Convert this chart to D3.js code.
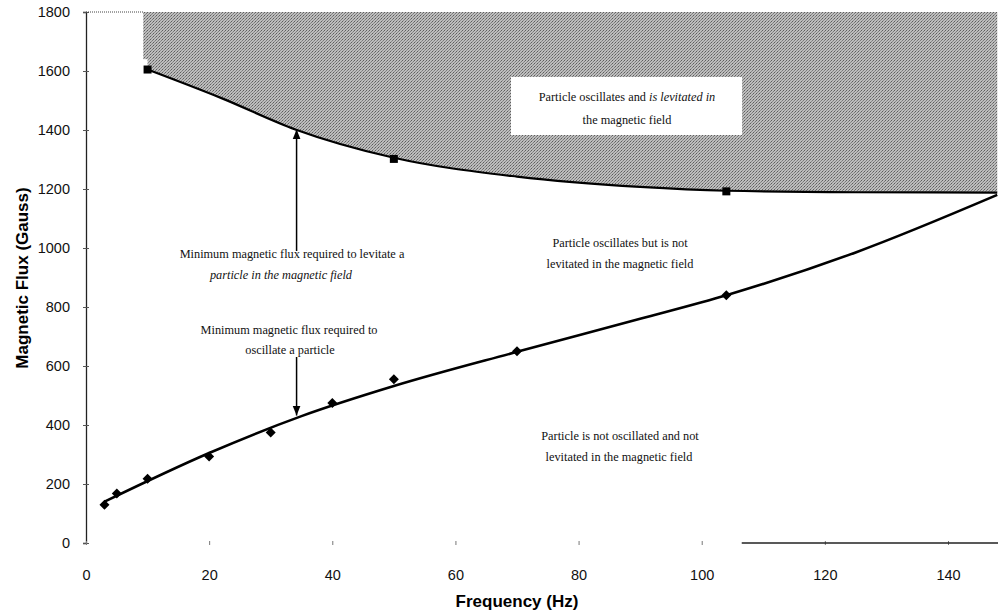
<!DOCTYPE html>
<html><head><meta charset="utf-8">
<script src="https://cdn.jsdelivr.net/npm/d3@7"></script>
<style>body{margin:0;background:#fff}svg{display:block}</style>
</head><body>
<script>
// Data
const oscPoints = [[3,130],[5,168],[10,218],[20,293],[30,375],[40,475],[50,555],[70,650],[104,840]];
const levPoints = [[10,1605],[50,1302],[104,1192]];
const oscFit = [[3,140],[20,305],[35,430],[50,532],[70,648],[90,760],[104,840],[125,985],[148,1180]];
const levFit = [[10,1605],[22,1508],[34,1402],[50,1306],[70,1242],[90,1207],[104,1194],[125,1189],[148,1188]];
const xTicks = [0,20,40,60,80,100,120,140];
const yTicks = [0,200,400,600,800,1000,1200,1400,1600,1800];
const xTitle = "Frequency (Hz)";
const yTitle = "Magnetic Flux (Gauss)";

const W = 998, H = 615;
const x = d3.scaleLinear().domain([0,140]).range([86,948]);
const y = d3.scaleLinear().domain([0,1800]).range([543,12]);

const svg = d3.select("body").append("svg").attr("width",W).attr("height",H);
const defs = svg.append("defs");
const pat = defs.append("pattern").attr("id","stip").attr("width",3).attr("height",3).attr("patternUnits","userSpaceOnUse");
pat.append("rect").attr("width",3).attr("height",3).attr("fill","#bdbdbd");
pat.append("rect").attr("x",0).attr("y",0).attr("width",1).attr("height",1).attr("fill","#5e5e5e");
pat.append("rect").attr("x",2).attr("y",1).attr("width",1).attr("height",1).attr("fill","#7a7a7a");
pat.append("rect").attr("x",1).attr("y",2).attr("width",1).attr("height",1).attr("fill","#8a8a8a");

const curve = d3.curveMonotoneX;
// Shaded region above upper curve
const area = d3.area().x(d=>x(d[0])).y0(y(1800)).y1(d=>y(d[1])).curve(curve);
svg.append("path").datum(levFit).attr("d",area).attr("fill","url(#stip)");
svg.append("rect").attr("x",x(9.3)).attr("y",y(1800)).attr("width",x(10)-x(9.3)+1).attr("height",y(1640)-y(1800)).attr("fill","url(#stip)");

// White box label
svg.append("rect").attr("x",511).attr("y",77).attr("width",231).attr("height",58).attr("fill","#fff");

const sans = "Arial, 'Liberation Sans', sans-serif";
// Axes
const yAxis = d3.axisLeft(y).tickValues(yTicks).tickFormat(d3.format("d")).tickSize(3).tickPadding(13);
const gy = svg.append("g").attr("transform","translate(86,0)").call(yAxis);
gy.select(".domain").attr("stroke","#222").attr("stroke-width",1.3);
gy.selectAll(".tick line").attr("x2",-3).attr("x1",3).attr("stroke","#555");
gy.selectAll("text").attr("font-family",sans).attr("font-size",14.5).attr("fill","#111");

const xAxis = d3.axisBottom(x).tickValues(xTicks).tickSize(3).tickPadding(24);
const gx = svg.append("g").attr("transform","translate(0,543)").call(xAxis);
gx.select(".domain").remove();
gx.selectAll(".tick line").attr("y1",-2).attr("y2",2).attr("stroke","#777");
gx.selectAll("text").attr("font-family",sans).attr("font-size",14.5).attr("fill","#111");
svg.append("line").attr("x1",x(106.5)).attr("x2",W).attr("y1",y(0)).attr("y2",y(0)).attr("stroke","#222").attr("stroke-width",1.3);
svg.append("line").attr("x1",86).attr("x2",x(9.3)).attr("y1",y(1800)).attr("y2",y(1800)).attr("stroke","#444").attr("stroke-dasharray","1,1");

svg.append("text").attr("x",517).attr("y",607).attr("text-anchor","middle")
  .attr("font-family",sans).attr("font-weight","bold").attr("font-size",17).text(xTitle);
svg.append("text").attr("transform","translate(28,278) rotate(-90)").attr("text-anchor","middle")
  .attr("font-family",sans).attr("font-weight","bold").attr("font-size",17).text(yTitle);

// Curves
const line = d3.line().x(d=>x(d[0])).y(d=>y(d[1])).curve(curve);
svg.append("path").datum(levFit).attr("d",line).attr("fill","none").attr("stroke","#000").attr("stroke-width",2.2);
svg.append("path").datum(oscFit).attr("d",line).attr("fill","none").attr("stroke","#000").attr("stroke-width",2.6);

// Markers
svg.selectAll(".sq").data(levPoints).join("rect").attr("class","sq")
  .attr("x",d=>x(d[0])-4).attr("y",d=>y(d[1])-4).attr("width",8).attr("height",8).attr("fill","#000");
svg.selectAll(".dm").data(oscPoints).join("path").attr("class","dm")
  .attr("transform",d=>`translate(${x(d[0])},${y(d[1])})`)
  .attr("d","M0,-5 L5,0 L0,5 L-5,0 Z").attr("fill","#000");

// Arrows
defs.append("marker").attr("id","ah").attr("viewBox","0 0 10 10").attr("refX",10).attr("refY",5)
  .attr("markerWidth",10).attr("markerHeight",10).attr("markerUnits","userSpaceOnUse").attr("orient","auto")
  .append("path").attr("d","M0,1 L10,5 L0,9 Z").attr("fill","#000");
svg.append("line").attr("x1",x(34.2)).attr("x2",x(34.2)).attr("y1",251).attr("y2",y(1402)).attr("stroke","#000").attr("stroke-width",1.5).attr("marker-end","url(#ah)");
svg.append("line").attr("x1",x(34.2)).attr("x2",x(34.2)).attr("y1",357).attr("y2",y(432)).attr("stroke","#000").attr("stroke-width",1.5).attr("marker-end","url(#ah)");

// Annotations
const serif = "'Liberation Serif','Times New Roman',serif";
function lbl(cx, cy, parts){
  const t = svg.append("text").attr("x",cx).attr("y",cy).attr("text-anchor","middle")
    .attr("font-family",serif).attr("font-size",12.3).attr("fill","#111");
  parts.forEach(p=>t.append("tspan").attr("font-style",p[1]?"italic":"normal").text(p[0]));
}
lbl(627,101,[["Particle oscillates and ",0],["is levitated in",1]]);
lbl(627,124,[["the magnetic field",0]]);
lbl(292,258,[["Minimum magnetic flux required to levitate a",0]]);
lbl(281,279,[["particle in the magnetic field",1]]);
lbl(620,247,[["Particle oscillates but is not",0]]);
lbl(620,268,[["levitated in the magnetic field",0]]);
lbl(289,334,[["Minimum magnetic flux required to",0]]);
lbl(290,354,[["oscillate a particle",0]]);
lbl(620,440,[["Particle is not oscillated and not",0]]);
lbl(619,461,[["levitated in the magnetic field",0]]);
</script>
</body></html>
